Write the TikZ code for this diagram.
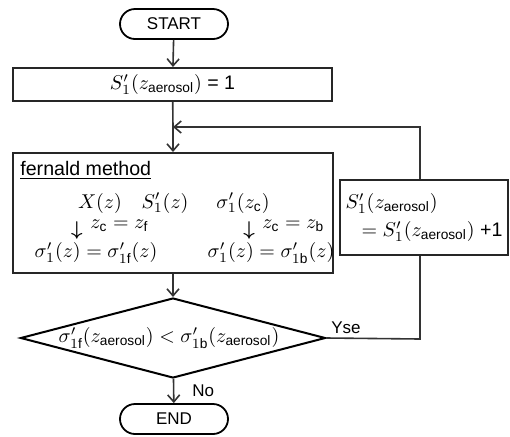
\documentclass[tikz,border=0pt]{standalone}
\usepackage{amsmath, amssymb}
\usepackage{fontspec}
\setmainfont{Liberation Sans}
\usetikzlibrary{positioning}
\usetikzlibrary{arrows.meta}
\usetikzlibrary{shapes}
\tikzset{
        flownode/.style={align=center, inner sep=0pt, font=\fontsize{8.5}{10}\selectfont},
        % Start and end
        node_terminal/.style={flownode, rectangle, rounded corners=7.5pt, draw=black, line width=0.9pt, minimum width=54pt, minimum height=15pt},
        % Process boxes
        node_process/.style={flownode, rectangle, draw=black!85, line width=1pt},
        % Decision
        node_decision/.style={flownode, diamond, draw=black, line width=1pt, minimum width=152.5pt, minimum height=40pt},
        % Plain text inside the boxes
        node_text/.style={flownode},
        % Formulas, a bit larger
        node_math/.style={flownode, font=\fontsize{9.8}{11}\selectfont},
        % Bold down arrows in the fernald block
        node_arrow/.style={flownode, font=\fontsize{10}{10}\selectfont},
        % Connectors
        flow_line/.style={draw=black!80, line width=0.8pt},
        flow/.style={flow_line, -{Straight Barb[length=3.5pt,width=6pt]}}
}
\begin{document}
\begin{tikzpicture}[x=0.5pt, y=-0.5pt]
    \useasboundingbox (0,0) rectangle (510,436);
    \node[node_terminal] (start) at (174,24) {START};
    \node[node_process, node_math, minimum width=159.5pt, minimum height=16.5pt] (init) at (172.5,84.5) {$S'_1(z_{\text{aerosol}})$ = 1};
    \coordinate (join) at (173,127);
    % fernald block
    \node[node_process, minimum width=160pt, minimum height=60pt] (fernald) at (173,213) {};
    \node[node_math, anchor=west] (title) at (20,170) {\underline{fernald method}};
    \node[node_math] (chi) at (100,203) {$X(z)$};
    \node[node_math] (ratio) at (165,203) {$S'_1(z)$};
    \node[node_math] (sigma_c) at (243,203) {$\sigma'_1(z_{\text{c}})$};
    \node[node_arrow] (down_f) at (77,230) {$\boldsymbol{\downarrow}$};
    \node[node_math, anchor=west] (cond_f) at (90,226) {$z_{\text{c}} = z_{\text{f}}$};
    \node[node_arrow] (down_b) at (249,230) {$\boldsymbol{\downarrow}$};
    \node[node_math, anchor=west] (cond_b) at (262,226) {$z_{\text{c}} = z_{\text{b}}$};
    \node[node_math] (res_f) at (96,253) {$\sigma'_1(z) = \sigma'_{1\text{f}}(z)$};
    \node[node_math] (res_b) at (271,253) {$\sigma'_1(z) = \sigma'_{1\text{b}}(z)$};
    % loop counter
    \node[node_process, align=left, minimum width=84pt, minimum height=37.5pt,
          font=\fontsize{9.8}{14}\selectfont] (incr) at (424,217.5)
          {$S'_1(z_{\text{aerosol}})$\\\hspace*{8pt}$=S'_1(z_{\text{aerosol}})$ +1};
    \node[node_decision] (test) at (173,338) {};
    \node[node_math] (cond) at (169,338) {$\sigma'_{1\text{f}}(z_{\text{aerosol}}) < \sigma'_{1\text{b}}(z_{\text{aerosol}})$};
    \node[node_terminal] (end) at (174,419) {END};
    \coordinate (yes_turn) at (420,339);

    \draw[flow] (start) -- (init);
    \draw[flow_line] (init) -- (join);
    \draw[flow] (join) -- (fernald);
    \draw[flow] (fernald) -- (test);
    \draw[flow] (test) -- node[node_text, right=9pt] (no) {No} (end);
    \draw[flow_line] (test.east) -- node[node_text, pos=0, anchor=south west, xshift=2pt, yshift=2pt] (yes) {Yse}
        (yes_turn) -- (yes_turn |- incr.south);
    \draw[flow] (yes_turn |- incr.north) |- (join);
\end{tikzpicture}
\end{document}
